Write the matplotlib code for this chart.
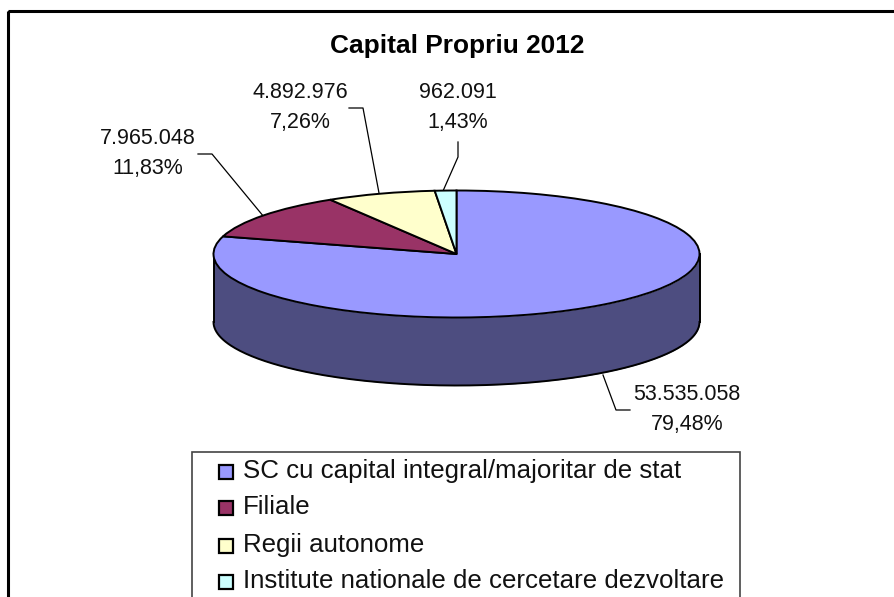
import numpy as np
import matplotlib
matplotlib.use('Agg')
import matplotlib.pyplot as plt
from matplotlib.patches import Rectangle

plt.rcParams['font.family'] = ['Liberation Sans', 'DejaVu Sans']

# data
categories = ['SC cu capital integral/majoritar de stat', 'Filiale',
              'Regii autonome', 'Institute nationale de cercetare dezvoltare']
values = [53535058, 7965048, 4892976, 962091]
value_labels = ['53.535.058', '7.965.048', '4.892.976', '962.091']
pct_labels = ['79,48%', '11,83%', '7,26%', '1,43%']
colors = ['#9999ff', '#993366', '#ffffcc', '#ccffff']
side_color = '#4d4d80'

W, H = 895, 597
fig = plt.figure(figsize=(W / 100, H / 100), dpi=100)

# page axes, in pixels of the picture
page = fig.add_axes([0, 0, 1, 1])
page.set_xlim(0, W)
page.set_ylim(H, 0)
page.axis('off')
# outer frame, right and bottom edges fall outside the picture
page.add_patch(Rectangle((8, 10.5), 1000, 700, fill=False, ec='black', lw=2.2, clip_on=True))

# pie axes: unit circle squashed to an ellipse
cx, cy, rx, ry, depth = 456.5, 254, 243, 63.5, 68
pie_ax = fig.add_axes([(cx - rx * 1.1) / W, 1 - (cy + ry * 3.5) / H,
                       rx * 2.2 / W, ry * 4.6 / H])
d = depth / ry

# side wall, front half only
t = np.linspace(np.pi, 2 * np.pi, 200)
pie_ax.fill_between(np.cos(t), np.sin(t), np.sin(t) - d, color=side_color, lw=0, zorder=1)
pie_ax.plot(np.cos(t), np.sin(t) - d, color='black', lw=1.4, zorder=2)
pie_ax.plot([-1, -1], [0, -d], color='black', lw=1.4, zorder=2)
pie_ax.plot([1, 1], [0, -d], color='black', lw=1.4, zorder=2)

wedges, _ = pie_ax.pie(values, colors=colors, startangle=90, counterclock=False, radius=1,
                       wedgeprops={'edgecolor': 'black', 'linewidth': 1.4, 'zorder': 3},
                       normalize=True)
pie_ax.set_aspect('auto')
pie_ax.set_xlim(-1.1, 1.1)
pie_ax.set_ylim(-3.5, 1.1)
pie_ax.axis('off')

# title
page.text(457, 53, 'Capital Propriu 2012', fontsize=18.9, fontweight='bold',
          ha='center', va='baseline', color='black')

# data labels
label_pos = [(687, 400), (147.5, 144), (300, 98), (458, 98)]
for i in range(len(values)):
    x, y = label_pos[i]
    page.text(x, y, value_labels[i], fontsize=15.5, ha='center', va='baseline', color='#111111')
    page.text(x, y + 30, pct_labels[i], fontsize=15.5, ha='center', va='baseline', color='#111111')

# leader lines
leaders = [([603, 616, 630], [375, 410, 410]),
           ([198, 212, 264], [154, 154, 217]),
           ([349, 363, 379], [108, 108, 193]),
           ([458, 458, 443], [142, 157, 191])]
for xs, ys in leaders:
    page.plot(xs, ys, color='black', lw=0.9)

# legend box, cut by the picture's bottom edge
page.add_patch(Rectangle((192, 452), 548, 170, fc='white', ec='#444444', lw=1.2, clip_on=True))
swatch_y = [471.5, 508, 546, 581.5]
text_y = [478, 514, 552, 588]
for i in range(len(categories)):
    page.add_patch(Rectangle((219.5, swatch_y[i] - 7), 14, 14, fc=colors[i], ec='black', lw=1.6))
    page.text(243, text_y[i], categories[i], fontsize=18.6, ha='left', va='baseline', color='#111111')

fig.savefig('out.png', dpi=100)
